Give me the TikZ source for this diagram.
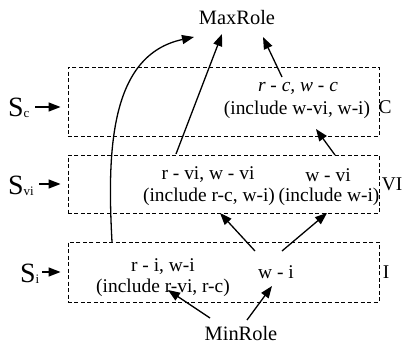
\documentclass[tikz,border=0pt]{standalone}
\usepackage{fontspec}
\setmainfont{Liberation Serif}
\usetikzlibrary{arrows.meta}
\tikzset{
  dbox/.style={draw, dashed, line width=0.9bp, dash pattern=on 4bp off 2.5bp, inner sep=0pt},
  txt/.style={inner sep=0pt, font=\fontsize{19.5}{21}\selectfont},
  big/.style={inner sep=0pt, font=\fontsize{20.5}{22}\selectfont},
  slab/.style={inner sep=0pt, font=\fontsize{28}{30}\selectfont},
  arr/.style={line width=1.3bp, -{Triangle[length=12bp,width=9bp]}},
}
\newcommand{\subsm}[1]{{\fontsize{13}{13}\selectfont\raisebox{-1bp}{#1}}}
\begin{document}
\begin{tikzpicture}[x=1bp,y=-1bp]
\useasboundingbox (0,0) rectangle (407,347);
% boxes
\node[dbox, minimum width=311bp, minimum height=69bp] (boxC) at (223.5,101.5) {};
\node[dbox, minimum width=311bp, minimum height=58bp] (boxVI) at (223.5,184) {};
\node[dbox, minimum width=311bp, minimum height=60bp] (boxI) at (223.5,272) {};
% top/bottom
\node[big] (max) at (237,18) {MaxRole};
\node[big] (min) at (241,334) {MinRole};
% side labels
\node[slab, anchor=west] (Sc) at (8,108) {S\subsm{c}};
\node[slab, anchor=west] (Svi) at (8,186) {S\subsm{vi}};
\node[slab, anchor=west] (Si) at (20,274) {S\subsm{i}};
\coordinate (sc0) at (35,107);
\coordinate (sv0) at (39,184);
\coordinate (si0) at (42,272);
\draw[arr, shorten >=7bp] (sc0) -- (sc0 -| boxC.west);
\draw[arr, shorten >=7bp] (sv0) -- (sv0 -| boxVI.west);
\draw[arr, shorten >=7bp] (si0) -- (si0 -| boxI.west);
\node[txt] (lC) at (385,107) {C};
\node[txt] (lVI) at (392,184) {VI};
\node[txt] (lI) at (386,272) {I};
% texts
\node[txt] (c1) at (298,88) {\itshape r - c, w - c};
\node[txt] (c2) at (297,110) {(include w-vi, w-i)};
\node[txt] (v1) at (208,175) {r - vi, w - vi};
\node[txt] (v2) at (209,197) {(include r-c, w-i)};
\node[txt] (v3) at (328,175) {w - vi};
\node[txt] (v4) at (329,197) {(include w-i)};
\node[txt] (i1) at (163,267) {r - i, w-i};
\node[txt] (i2) at (163,288) {(include r-vi, r-c)};
\node[txt] (i3) at (276,272) {w - i};
% arrow endpoints
\coordinate (a0) at (112,242);
\coordinate (a1) at (194,37);
\coordinate (b0) at (176,154);
\coordinate (b1) at (222,34);
\coordinate (c0) at (282,77);
\coordinate (cc1) at (263,37);
\coordinate (d0) at (335,155);
\coordinate (d1) at (316,129);
\coordinate (e0) at (255,251);
\coordinate (e1) at (220,213);
\coordinate (f0) at (282,251);
\coordinate (f1) at (327,213);
\coordinate (g0) at (210,318);
\coordinate (g1) at (168,290);
\coordinate (h0) at (247,320);
\coordinate (h1) at (272,286);
\draw[arr] (a0) .. controls (107,150) and (110,55) .. (a1);
\draw[arr] (b0) -- (b1);
\draw[arr] (c0) -- (cc1);
\draw[arr] (d0) -- (d1);
\draw[arr] (e0) -- (e1);
\draw[arr] (f0) -- (f1);
\draw[arr] (g0) -- (g1);
\draw[arr] (h0) -- (h1);
\end{tikzpicture}
\end{document}
